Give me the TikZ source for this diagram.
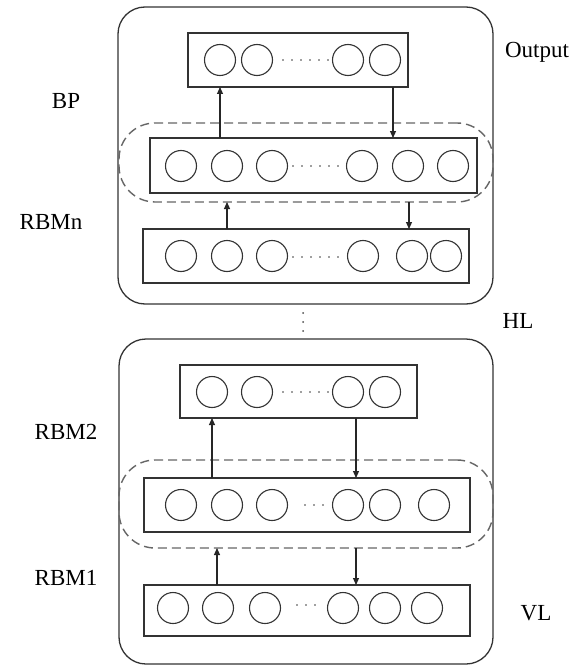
\documentclass[tikz,border=0pt]{standalone}
\usepackage{fontspec}
\setmainfont{Liberation Serif}
\usetikzlibrary{arrows.meta}
\begin{document}
\begin{tikzpicture}[x=1pt,y=-1pt,
 outerbox/.style={draw=black!80, line width=1.3pt, rounded corners=27pt, inner sep=0pt, outer sep=0pt},
 layerbox/.style={draw=black!80, line width=1.5pt, inner sep=0pt, outer sep=0pt},
 groupbox/.style={draw=black!60, line width=1.4pt, dash pattern=on 9pt off 5pt, rounded corners=36pt, inner sep=0pt, outer sep=0pt},
 unit/.style={circle, draw=black!80, line width=1.1pt, minimum size=31pt, inner sep=0pt},
 ell/.style={black!75, line width=1.9pt, line cap=round, dash pattern=on 0pt off 9pt},
 conn/.style={black!85, line width=1.1pt, -{Triangle[length=7pt,width=6pt]}},
 lab/.style={font=\fontsize{23}{23}\selectfont, inner sep=0pt}]
\useasboundingbox (0,0) rectangle (581,666);
\fill[white] (0,0) rectangle (581,666);

% ---------- upper block ----------
\node[outerbox, minimum width=375pt, minimum height=297pt] (top) at (305.5,155.5) {};
\node[groupbox, minimum width=374pt, minimum height=79pt] (d1) at (306,162.5) {};
\node[layerbox, minimum width=220pt, minimum height=54pt] (o1) at (298,60) {};
\node[layerbox, minimum width=327pt, minimum height=55pt] (h1) at (313.5,165.5) {};
\node[layerbox, minimum width=326pt, minimum height=54pt] (b1) at (306,256) {};

\foreach \x [count=\i] in {220,257,348,385} \node[unit] (o1u\i) at (\x,60) {};
\foreach \x [count=\i] in {181,227,272,362,408,453} \node[unit] (h1u\i) at (\x,166) {};
\foreach \x [count=\i] in {181,227,272,363,412,446} \node[unit] (b1u\i) at (\x,256) {};
\draw[ell] (283,60) -- (328.5,60);
\draw[ell] (293,166) -- (338.5,166);
\draw[ell] (293,257) -- (338.5,257);

\coordinate (xa) at (220,0);
\coordinate (xb) at (393,0);
\coordinate (xc) at (227,0);
\coordinate (xd) at (409,0);
\draw[conn] (h1.north -| xa) -- (o1.south -| xa);
\draw[conn] (o1.south -| xb) -- (h1.north -| xb);
\draw[conn] (b1.north -| xc) -- (d1.south -| xc);
\draw[conn] (d1.south -| xd) -- (b1.north -| xd);

% ---------- vertical ellipsis ----------
\foreach \y in {313,322,331} \fill[black!70] (303,\y) circle (1.0);

% ---------- lower block ----------
\node[outerbox, minimum width=374pt, minimum height=325pt] (bot) at (306,501.5) {};
\node[groupbox, minimum width=374pt, minimum height=88pt] (d2) at (306,504) {};
\node[layerbox, minimum width=237pt, minimum height=53pt] (o2) at (298.5,391.5) {};
\node[layerbox, minimum width=326pt, minimum height=54pt] (h2) at (307,505) {};
\node[layerbox, minimum width=326pt, minimum height=51pt] (b2) at (307,610.5) {};

\foreach \x [count=\i] in {212,257,348,385} \node[unit] (o2u\i) at (\x,392) {};
\foreach \x [count=\i] in {181,227,272,348,385,434} \node[unit] (h2u\i) at (\x,505) {};
\foreach \x [count=\i] in {173,218,265,343,385,427} \node[unit] (b2u\i) at (\x,608) {};
\draw[ell] (283,392) -- (328.5,392);
\draw[ell] (305,505) -- (323.5,505);
\draw[ell] (297,605) -- (315.5,605);

\coordinate (xe) at (212,0);
\coordinate (xf) at (356,0);
\coordinate (xg) at (217,0);
\draw[conn] (h2.north -| xe) -- (o2.south -| xe);
\draw[conn] (o2.south -| xf) -- (h2.north -| xf);
\draw[conn] (b2.north -| xg) -- (d2.south -| xg);
\draw[conn] (d2.south -| xf) -- (b2.north -| xf);

% ---------- labels ----------
\node[lab] (lout) at (537,52) {Output};
\node[lab] (lbp) at (66,101) {BP};
\node[lab] (lrbmn) at (51,222) {RBMn};
\node[lab] (lhl) at (518,321) {HL};
\node[lab] (lrbm2) at (66,432) {RBM2};
\node[lab] (lrbm1) at (66,578) {RBM1};
\node[lab] (lvl) at (536,613) {VL};
\end{tikzpicture}
\end{document}
